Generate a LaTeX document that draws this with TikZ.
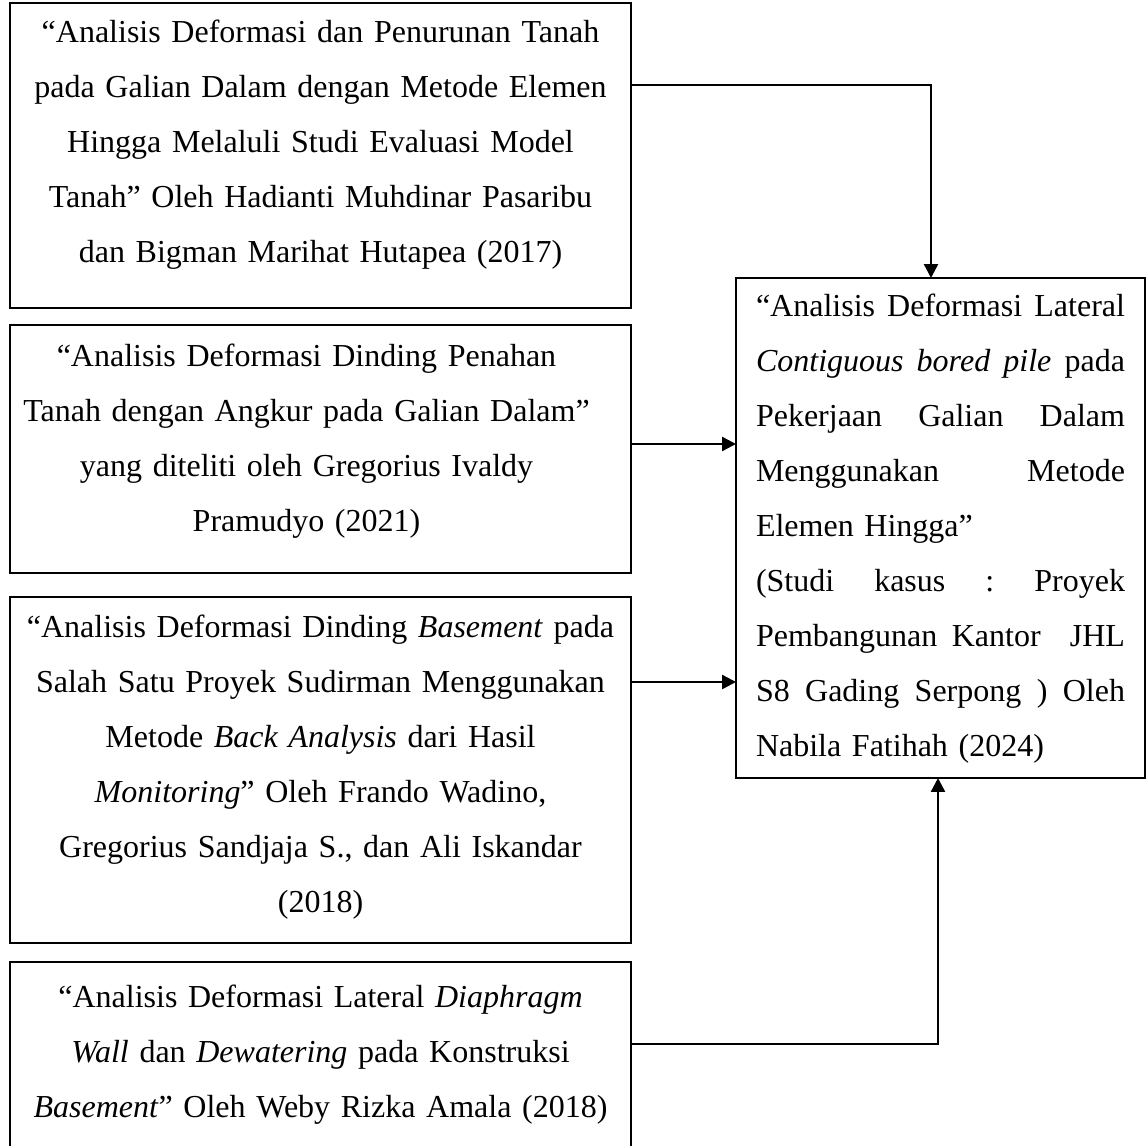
\documentclass[tikz,border=0pt]{standalone}
\usepackage{fontspec}
\setmainfont{Liberation Serif}
\usetikzlibrary{arrows.meta}
\newcommand{\baris}[1]{\makebox[138.375pt][s]{#1}}

\begin{document}
\begin{tikzpicture}[x=0.375pt, y=-0.375pt, line width=0.9pt, >={Triangle[length=5.2pt, width=5.2pt]},
    kotak/.style={draw, rectangle, anchor=north, inner sep=0pt, outer sep=0pt, minimum width=232.875pt,
      text width=225pt, align=center, font=\fontsize{12pt}{20.625pt}\selectfont}]
    \useasboundingbox (0,0) rectangle (1148,1146);
    \clip (0,0) rectangle (1148,1146);
    % penelitian terdahulu
    \node[kotak, text height=15pt, text depth=99.375pt] (lit1) at (320.5,3) {%
      “Analisis Deformasi dan Penurunan Tanah\\
      pada Galian Dalam dengan Metode Elemen\\
      Hingga Melaluli Studi Evaluasi Model\\
      Tanah” Oleh Hadianti Muhdinar Pasaribu\\
      dan Bigman Marihat Hutapea (2017)};
    \node[kotak, text height=15.75pt, text depth=77.25pt] (lit2) at (320.5,325) {%
      \hspace*{-10.5pt}“Analisis Deformasi Dinding Penahan\\
      \hspace*{-10.5pt}Tanah dengan Angkur pada Galian Dalam”\\
      \hspace*{-10.5pt}yang diteliti oleh Gregorius Ivaldy\\
      \hspace*{-10.5pt}Pramudyo (2021)};
    \node[kotak, text height=15pt, text depth=114.75pt] (lit3) at (320.5,597) {%
      “Analisis Deformasi Dinding \textit{Basement} pada\\
      Salah Satu Proyek Sudirman Menggunakan\\
      Metode \textit{Back Analysis} dari Hasil\\
      \textit{Monitoring}” Oleh Frando Wadino,\\
      Gregorius Sandjaja S., dan Ali Iskandar\\
      (2018)};
    \node[kotak, text height=16.875pt, text depth=75pt] (lit4) at (320.5,962) {%
      “Analisis Deformasi Lateral \textit{Diaphragm}\\
      \textit{Wall} dan \textit{Dewatering} pada Konstruksi\\
      \textit{Basement}” Oleh Weby Rizka Amala (2018)};
    % penelitian ini
    \node[kotak, minimum width=153.375pt, text width=138.375pt, align=left,
      text height=14.625pt, text depth=172.875pt] (utama) at (940.5,278) {%
      \baris{“Analisis\hfill Deformasi\hfill Lateral}\\
      \baris{\textit{Contiguous}\hfill\textit{bored}\hfill\textit{pile}\hfill pada}\\
      \baris{Pekerjaan\hfill Galian\hfill Dalam}\\
      \baris{Menggunakan\hfill Metode}\\
      Elemen Hingga”\\
      \baris{(Studi\hfill kasus\hfill :\hfill Proyek}\\
      \baris{Pembangunan\hfill Kantor\hfill\hfill JHL}\\
      \baris{S8\hfill Gading\hfill Serpong\hfill )\hfill Oleh}\\
      Nabila Fatihah (2024)};
    % penghubung
    \coordinate (k1) at (931,85);
    \coordinate (k2) at (700,444);
    \coordinate (k3) at (700,682);
    \coordinate (k4) at (938,1044);
    \draw[->] (lit1.east |- k1) -- (k1) -- (utama.north -| k1);
    \draw[->] (lit2.east |- k2) -- (utama.west |- k2);
    \draw[->] (lit3.east |- k3) -- (utama.west |- k3);
    \draw[->] (lit4.east |- k4) -- (k4) -- (utama.south -| k4);
\end{tikzpicture}
\end{document}
